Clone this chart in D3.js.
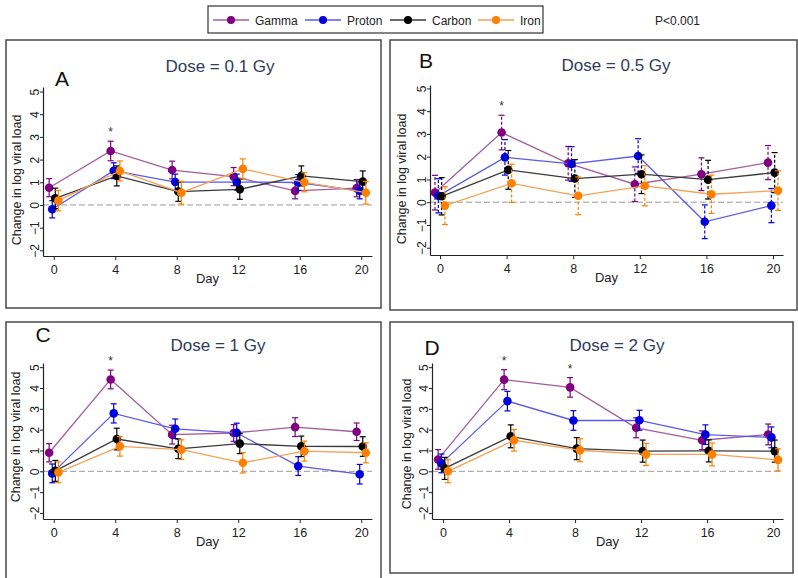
<!DOCTYPE html>
<html>
<head>
<meta charset="utf-8">
<script src="https://cdn.jsdelivr.net/npm/d3@7"></script>
<style>
  html, body { margin: 0; padding: 0; background: #fff; }
  svg { display: block; font-family: "Liberation Sans", Arial, sans-serif; }
</style>
</head>
<body>
<svg id="chart" width="798" height="578"></svg>
<script>
// ---------------- DATA ----------------
const days = [0, 4, 8, 12, 16, 20];
const seriesNames = ["Gamma", "Proton", "Carbon", "Iron"];
const panelLetters = ["A", "B", "C", "D"];
const doseLabels = ["Dose = 0.1 Gy", "Dose = 0.5 Gy", "Dose = 1 Gy", "Dose = 2 Gy"];
const yTickValues = [-2, -1, 0, 1, 2, 3, 4, 5];
const pValueText = "P<0.001";
const yAxisTitle = "Change in log viral load";
const xAxisTitle = "Day";

// Panel A (0.1 Gy)
const gammaA  = [0.76, 2.38, 1.54, 1.25, 0.62, 0.74];
const gammaAse = [0.40, 0.43, 0.39, 0.40, 0.35, 0.38];
const protonA = [-0.19, 1.51, 1.01, 1.01, 0.99, 0.62];
const protonAse = [0.38, 0.35, 0.35, 0.35, 0.35, 0.35];
const carbonA = [0.29, 1.28, 0.59, 0.69, 1.28, 1.03];
const carbonAse = [0.45, 0.44, 0.43, 0.44, 0.44, 0.47];
const ironA   = [0.19, 1.50, 0.54, 1.59, 1.00, 0.54];
const ironAse = [0.45, 0.44, 0.50, 0.44, 0.42, 0.50];

// Panel B (0.5 Gy)
const gammaB  = [0.42, 3.06, 1.71, 0.79, 1.23, 1.74];
const gammaBse = [0.76, 0.76, 0.74, 0.76, 0.72, 0.75];
const protonB = [0.28, 1.97, 1.68, 2.03, -0.86, -0.15];
const protonBse = [0.75, 0.78, 0.76, 0.76, 0.74, 0.75];
const carbonB = [0.26, 1.42, 1.04, 1.23, 0.99, 1.30];
const carbonBse = [0.82, 0.85, 0.83, 0.85, 0.85, 0.88];
const ironB   = [-0.15, 0.83, 0.28, 0.72, 0.35, 0.51];
const ironBse = [0.83, 0.84, 0.83, 0.88, 0.84, 0.87];

// Panel C (1 Gy)
const gammaC  = [0.89, 4.41, 1.76, 1.84, 2.12, 1.90];
const gammaCse = [0.44, 0.45, 0.45, 0.40, 0.45, 0.42];
const protonC = [-0.10, 2.78, 2.04, 1.85, 0.25, -0.14];
const protonCse = [0.45, 0.46, 0.47, 0.46, 0.45, 0.47];
const carbonC = [0.02, 1.55, 1.08, 1.33, 1.20, 1.19];
const carbonCse = [0.50, 0.52, 0.47, 0.48, 0.49, 0.47];
const ironC   = [-0.05, 1.20, 1.04, 0.41, 0.97, 0.89];
const ironCse = [0.50, 0.47, 0.47, 0.49, 0.48, 0.48];

// Panel D (2 Gy)
const gammaD  = [0.57, 4.40, 4.03, 2.09, 1.49, 1.77];
const gammaDse = [0.47, 0.48, 0.47, 0.48, 0.45, 0.50];
const protonD = [0.38, 3.37, 2.44, 2.45, 1.76, 1.63];
const protonDse = [0.45, 0.47, 0.47, 0.48, 0.47, 0.50];
const carbonD = [0.14, 1.68, 1.09, 0.97, 0.98, 0.97];
const carbonDse = [0.53, 0.55, 0.53, 0.53, 0.53, 0.53];
const ironD   = [0.00, 1.49, 1.01, 0.81, 0.81, 0.55];
const ironDse = [0.55, 0.52, 0.55, 0.53, 0.55, 0.53];

// Days flagged with significance asterisk, per panel
const starDaysA = [4];
const starDaysB = [4];
const starDaysC = [4];
const starDaysD = [4, 8];

// ---------------- STYLE / LAYOUT ----------------
const markerColors = ["#800080", "#0000dd", "#000000", "#ff8000"];
const lineColors   = ["#a45c9e", "#5a5ae6", "#3a3a3a", "#f4a257"];
const dayOffsets   = [-0.3, -0.1, 0.1, 0.3];
const FONT = '"Liberation Sans", Arial, sans-serif';

const panelData = [
  { vals: [gammaA, protonA, carbonA, ironA], se: [gammaAse, protonAse, carbonAse, ironAse], stars: starDaysA },
  { vals: [gammaB, protonB, carbonB, ironB], se: [gammaBse, protonBse, carbonBse, ironBse], stars: starDaysB },
  { vals: [gammaC, protonC, carbonC, ironC], se: [gammaCse, protonCse, carbonCse, ironCse], stars: starDaysC },
  { vals: [gammaD, protonD, carbonD, ironD], se: [gammaDse, protonDse, carbonDse, ironDse], stars: starDaysD }
];

const layouts = [
  { box: [6, 40, 381, 308], xDom: [-0.7, 20.7], xR: [43, 372], yDom: [-2.25, 5.2], yR: [256, 87],
    title: [220, 72], letter: [62, 86], yTitle: [21, 180], dash: null },
  { box: [390, 40, 797, 310], xDom: [-0.6, 20.6], xR: [430, 783], yDom: [-2.32, 5.15], yR: [255, 85],
    title: [616, 71], letter: [426, 68], yTitle: [406, 179], dash: "3,2" },
  { box: [6, 322, 381, 582], xDom: [-0.7, 20.7], xR: [43, 372], yDom: [-2.29, 5.2], yR: [519, 363],
    title: [218, 351], letter: [43, 342], yTitle: [20, 437], dash: null },
  { box: [390, 322, 793, 573], xDom: [-0.67, 20.6], xR: [432, 783], yDom: [-2.29, 5.2], yR: [519, 363],
    title: [617, 351], letter: [432, 355], yTitle: [411, 444], dash: null }
];

const svg = d3.select("#chart");
svg.append("rect").attr("width", 798).attr("height", 578).attr("fill", "#fff");

// ---------------- PANELS ----------------
layouts.forEach((L, pi) => {
  const P = panelData[pi];
  const g = svg.append("g");

  g.append("rect")
    .attr("x", L.box[0]).attr("y", L.box[1])
    .attr("width", L.box[2] - L.box[0]).attr("height", L.box[3] - L.box[1])
    .attr("fill", "#fff").attr("stroke", "#4a4a4a").attr("stroke-width", 1.5);

  const x = d3.scaleLinear().domain(L.xDom).range(L.xR);
  const y = d3.scaleLinear().domain(L.yDom).range(L.yR);

  // zero reference line
  g.append("line")
    .attr("x1", L.xR[0]).attr("x2", L.xR[1])
    .attr("y1", y(0)).attr("y2", y(0))
    .attr("stroke", "#9a9a9a").attr("stroke-width", 1)
    .attr("stroke-dasharray", "6,3");

  // x axis
  const xa = g.append("g")
    .attr("transform", `translate(0,${L.yR[0]})`)
    .call(d3.axisBottom(x).tickValues(days).tickSize(4).tickSizeOuter(0).tickPadding(5));
  xa.select(".domain").attr("stroke", "#222").attr("stroke-width", 1.2);
  xa.selectAll(".tick line").attr("stroke", "#222");
  xa.selectAll(".tick text").attr("font-size", 12.5).attr("font-family", FONT).attr("fill", "#222");

  // y axis
  const ya = g.append("g")
    .attr("transform", `translate(${L.xR[0]},0)`)
    .call(d3.axisLeft(y).tickValues(yTickValues).tickSize(3).tickSizeOuter(0).tickFormat(d3.format("d")));
  ya.select(".domain").attr("stroke", "#222").attr("stroke-width", 1.2);
  ya.selectAll(".tick line").attr("stroke", "#222");
  ya.selectAll(".tick text")
    .attr("font-size", 12).attr("font-family", FONT).attr("fill", "#222")
    .attr("x", 0).attr("dy", 0).attr("text-anchor", "middle")
    .attr("transform", "translate(-4.5,0) rotate(-90)");

  // axis titles
  g.append("text")
    .attr("x", (L.xR[0] + L.xR[1]) / 2).attr("y", L.yR[0] + 26.5)
    .attr("text-anchor", "middle").attr("font-size", 13).attr("font-family", FONT).attr("fill", "#222")
    .text(xAxisTitle);
  g.append("text")
    .attr("transform", `translate(${L.yTitle[0]},${L.yTitle[1]}) rotate(-90)`)
    .attr("text-anchor", "middle").attr("font-size", 12.5).attr("font-family", FONT).attr("fill", "#222")
    .text(yAxisTitle);

  // titles
  g.append("text")
    .attr("x", L.title[0]).attr("y", L.title[1])
    .attr("text-anchor", "middle").attr("font-size", 17).attr("font-family", FONT).attr("fill", "#2f3d5a")
    .text(doseLabels[pi]);
  g.append("text")
    .attr("x", L.letter[0]).attr("y", L.letter[1])
    .attr("text-anchor", "middle").attr("font-size", 21).attr("font-family", FONT).attr("fill", "#111")
    .text(panelLetters[pi]);

  // series
  const line = d3.line().x(d => x(d.day)).y(d => y(d.v));
  seriesNames.forEach((name, si) => {
    const pts = days.map((d, i) => ({ day: d + dayOffsets[si], v: P.vals[si][i], se: P.se[si][i] }));
    const sg = g.append("g");
    sg.append("path").datum(pts)
      .attr("d", line).attr("fill", "none")
      .attr("stroke", lineColors[si]).attr("stroke-width", 1.3);
    const eb = sg.selectAll("g.eb").data(pts).enter().append("g");
    eb.append("line")
      .attr("x1", d => x(d.day)).attr("x2", d => x(d.day))
      .attr("y1", d => y(d.v - d.se)).attr("y2", d => y(d.v + d.se))
      .attr("stroke", markerColors[si]).attr("stroke-width", 1.2)
      .attr("stroke-dasharray", L.dash);
    [1, -1].forEach(sgn => {
      eb.append("line")
        .attr("x1", d => x(d.day) - 3).attr("x2", d => x(d.day) + 3)
        .attr("y1", d => y(d.v + sgn * d.se)).attr("y2", d => y(d.v + sgn * d.se))
        .attr("stroke", markerColors[si]).attr("stroke-width", 1.2);
    });
    sg.selectAll("circle").data(pts).enter().append("circle")
      .attr("cx", d => x(d.day)).attr("cy", d => y(d.v)).attr("r", 4.3)
      .attr("fill", markerColors[si]);
  });

  // significance stars above gamma error bar
  P.stars.forEach(sd => {
    const i = days.indexOf(sd);
    const top = y(P.vals[0][i] + P.se[0][i]);
    g.append("text")
      .attr("x", x(sd + dayOffsets[0])).attr("y", top - 5)
      .attr("text-anchor", "middle").attr("font-size", 12).attr("font-family", FONT).attr("fill", "#333")
      .text("*");
  });
});

// ---------------- LEGEND ----------------
const lg = svg.append("g");
lg.append("rect").attr("x", 208).attr("y", 6).attr("width", 335).attr("height", 27)
  .attr("fill", "#fff").attr("stroke", "#333").attr("stroke-width", 1.2);
const legendX = [213, 305, 390, 478];
seriesNames.forEach((name, si) => {
  const x0 = legendX[si];
  lg.append("line").attr("x1", x0).attr("x2", x0 + 36).attr("y1", 20).attr("y2", 20)
    .attr("stroke", lineColors[si]).attr("stroke-width", 1.3);
  lg.append("circle").attr("cx", x0 + 18).attr("cy", 20).attr("r", 4).attr("fill", markerColors[si]);
  lg.append("text").attr("x", x0 + 42).attr("y", 25)
    .attr("font-size", 12).attr("font-family", FONT).attr("fill", "#222").text(name);
});
svg.append("text").attr("x", 655).attr("y", 25)
  .attr("font-size", 12).attr("font-family", FONT).attr("fill", "#222").text(pValueText);
</script>
</body>
</html>
